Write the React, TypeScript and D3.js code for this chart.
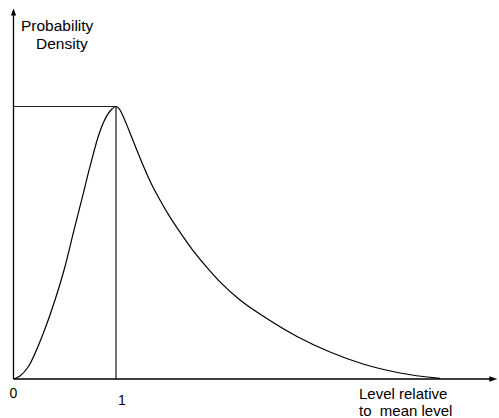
import React from "react";
import * as d3 from "d3";

// Curve (x: level relative to mean, y: density relative to peak)
const curveX = [0, 0.063, 0.144, 0.291, 0.405, 0.502, 0.583, 0.665, 0.746, 0.837, 0.925, 0.961, 1.0,
  1.02, 1.039, 1.068, 1.098, 1.137, 1.195, 1.263, 1.341, 1.429, 1.527, 1.624, 1.741, 1.868,
  2.034, 2.21, 2.434, 2.766, 3.088, 3.41, 3.771, 4.161];
const curveY = [0, 0.011, 0.045, 0.168, 0.29, 0.412, 0.535, 0.657, 0.779, 0.902, 0.975, 0.991, 1.0,
  0.996, 0.987, 0.965, 0.939, 0.903, 0.848, 0.785, 0.719, 0.657, 0.594, 0.539, 0.477, 0.418,
  0.349, 0.29, 0.231, 0.156, 0.099, 0.055, 0.022, 0.002];

const peakX = 1;
const peakY = 1;
const xAxisMax = 4.72;
const yAxisMax = 1.36;

const xTickValues = [0, 1];
const xTickLabels = ["0", "1"];
const yTitle = ["Probability", "Density"];
const xTitle = ["Level relative", "to  mean level"];

export default function App() {
  const W = 499;
  const H = 418;
  const x = d3.scaleLinear().domain([0, 1]).range([13.5, 116]);
  const y = d3.scaleLinear().domain([0, 1]).range([379, 106.5]);

  const pts: [number, number][] = curveX.map((v, i) => [v, curveY[i]]);
  const line = d3
    .line<[number, number]>()
    .x((d) => x(d[0]))
    .y((d) => y(d[1]))
    .curve(d3.curveMonotoneX);

  const x0 = x(0);
  const y0 = y(0);
  const xEnd = x(xAxisMax);
  const yTop = y(yAxisMax);
  const font = "'Liberation Sans', Arial, Helvetica, sans-serif";

  return (
    <svg
      width={W}
      height={H}
      viewBox={`0 0 ${W} ${H}`}
      style={{ position: "absolute", left: 0, top: 0, background: "#fff" }}
    >
      {/* axes */}
      <line x1={x0} y1={y0} x2={x0} y2={yTop + 4} stroke="#000" strokeWidth={1.3} />
      <path d={`M${x0},${yTop} L${x0 - 2.6},${yTop + 7} L${x0 + 2.6},${yTop + 7} Z`} fill="#000" />
      <line x1={x0} y1={y0} x2={xEnd - 4} y2={y0} stroke="#000" strokeWidth={1.3} />
      <path d={`M${xEnd},${y0} L${xEnd - 8},${y0 - 2.8} L${xEnd - 8},${y0 + 2.8} Z`} fill="#000" />

      {/* reference lines to peak */}
      <line x1={x0} y1={y(peakY)} x2={x(peakX)} y2={y(peakY)} stroke="#222" strokeWidth={1.1} />
      <line x1={x(peakX)} y1={y(peakY)} x2={x(peakX)} y2={y0} stroke="#000" strokeWidth={1.1} />

      {/* curve */}
      <path d={line(pts) || ""} fill="none" stroke="#000" strokeWidth={1.2} />

      {/* y title */}
      <text x={21} y={31} fontFamily={font} fontSize={15.5} fill="#000">{yTitle[0]}</text>
      <text x={36} y={49} fontFamily={font} fontSize={15.5} fill="#000">{yTitle[1]}</text>

      {/* tick labels */}
      <text x={x(xTickValues[0])} y={398} fontFamily={font} fontSize={14} textAnchor="middle" fill="#000">
        {xTickLabels[0]}
      </text>
      <text x={x(xTickValues[1]) + 6} y={405} fontFamily={font} fontSize={14} textAnchor="middle" fill="#000">
        {xTickLabels[1]}
      </text>

      {/* x title */}
      <text x={359} y={399} fontFamily={font} fontSize={15} fill="#000" style={{ whiteSpace: "pre" }}>
        {xTitle[0]}
      </text>
      <text x={359} y={416} fontFamily={font} fontSize={15} fill="#000" style={{ whiteSpace: "pre" }}>
        {xTitle[1]}
      </text>
    </svg>
  );
}
